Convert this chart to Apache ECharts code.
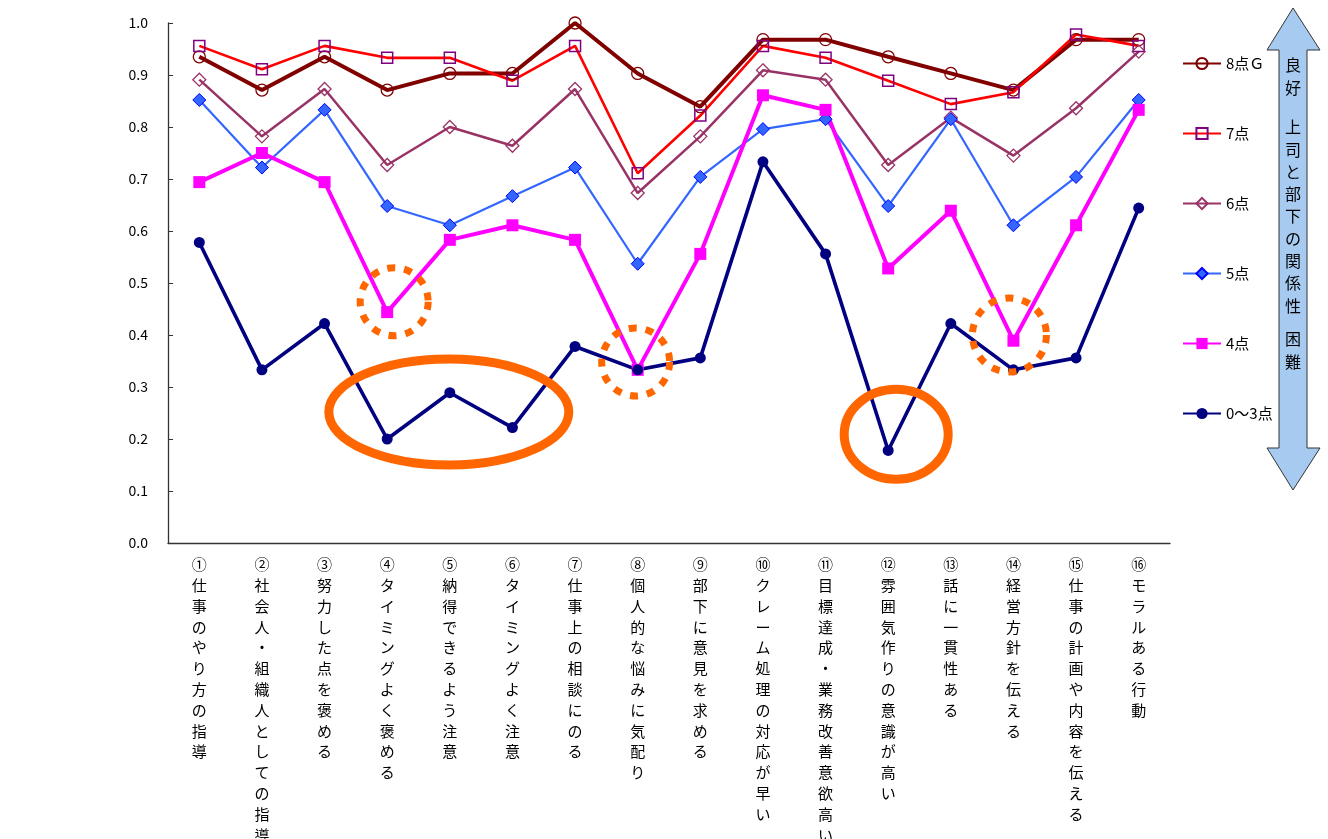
<!DOCTYPE html>
<html>
<head>
<meta charset="utf-8">
<script src="https://cdn.jsdelivr.net/npm/echarts@6/dist/echarts.min.js"></script>
<style>
html,body{margin:0;padding:0;background:#fff;}
#chart{width:1328px;height:839px;}
</style>
</head>
<body>
<div id="chart"></div>
<script>
const categories = ['①仕事のやり方の指導', '②社会人・組織人としての指導', '③努力した点を褒める', '④タイミングよく褒める', '⑤納得できるよう注意', '⑥タイミングよく注意', '⑦仕事上の相談にのる', '⑧個人的な悩みに気配り', '⑨部下に意見を求める', '⑩クレーム処理の対応が早い', '⑪目標達成・業務改善意欲高い', '⑫雰囲気作りの意識が高い', '⑬話に一貫性ある', '⑭経営方針を伝える', '⑮仕事の計画や内容を伝える', '⑯モラルある行動'];
const seriesNames = ['8点Ｇ', '7点', '6点', '5点', '4点', '0～3点'];
const s8G = [0.935, 0.871, 0.935, 0.871, 0.903, 0.903, 1.000, 0.903, 0.839, 0.968, 0.968, 0.935, 0.903, 0.871, 0.968, 0.968];
const s7 = [0.956, 0.911, 0.956, 0.933, 0.933, 0.889, 0.956, 0.711, 0.822, 0.956, 0.933, 0.889, 0.844, 0.867, 0.978, 0.956];
const s6 = [0.891, 0.782, 0.873, 0.727, 0.800, 0.764, 0.873, 0.673, 0.782, 0.909, 0.891, 0.727, 0.818, 0.745, 0.836, 0.945];
const s5 = [0.852, 0.722, 0.833, 0.648, 0.611, 0.667, 0.722, 0.537, 0.704, 0.796, 0.815, 0.648, 0.815, 0.611, 0.704, 0.852];
const s4 = [0.694, 0.750, 0.694, 0.444, 0.583, 0.611, 0.583, 0.333, 0.556, 0.861, 0.833, 0.528, 0.639, 0.389, 0.611, 0.833];
const s03 = [0.578, 0.333, 0.422, 0.200, 0.289, 0.222, 0.378, 0.333, 0.356, 0.733, 0.556, 0.178, 0.422, 0.333, 0.356, 0.644];
const yTicks = [0, 0.1, 0.2, 0.3, 0.4, 0.5, 0.6, 0.7, 0.8, 0.9, 1.0];
const arrowText = ['良好', '上司と部下の関係性', '困難'];

const FONT = "'Noto Sans CJK JP', 'Noto Sans', sans-serif";
const chart = echarts.init(document.getElementById('chart'));

function lineSeries(name, data, lineColor, lineWidth, symbol, size, fill, border, borderWidth) {
  return {
    name: name, type: 'line', data: data,
    symbol: symbol, symbolSize: size,
    lineStyle: { color: lineColor, width: lineWidth },
    itemStyle: { color: fill, borderColor: border, borderWidth: borderWidth },
    emphasis: { disabled: true },
    animation: false
  };
}

const option = {
  animation: false,
  textStyle: { fontFamily: FONT },
  grid: { left: 168, right: 158, top: 23, bottom: 296, containLabel: false, outerBoundsMode: 'none' },
  legend: {
    orient: 'vertical', left: 1177, top: 51,
    itemWidth: 38, itemHeight: 14, itemGap: 55,
    textStyle: { fontSize: 15, color: '#000', fontFamily: FONT },
    data: seriesNames
  },
  xAxis: {
    type: 'category', data: categories, boundaryGap: true,
    axisLine: { lineStyle: { color: '#333', width: 1.3 } },
    axisTick: { inside: true, length: 5, lineStyle: { color: '#333' } },
    axisLabel: {
      interval: 0, margin: 11, color: '#000', fontSize: 15, lineHeight: 20.8,
      fontFamily: FONT,
      formatter: v => Array.from(v).join('\n')
    }
  },
  yAxis: {
    type: 'value', min: 0, max: 1, interval: 0.1,
    splitLine: { show: false },
    axisLine: { show: true, lineStyle: { color: '#333', width: 1.3 } },
    axisTick: { show: true, inside: true, length: 5, lineStyle: { color: '#333' } },
    axisLabel: { margin: 20, color: '#000', fontSize: 14, fontFamily: FONT,
      formatter: v => (Math.round(v * 10) / 10).toFixed(1) }
  },
  series: [
    lineSeries(seriesNames[0], s8G, '#800000', 4, 'circle', 12, 'rgba(255,255,255,0)', '#800000', 1.3),
    lineSeries(seriesNames[1], s7, '#ff0000', 2.6, 'rect', 11, 'rgba(255,255,255,0)', '#800080', 1.5),
    lineSeries(seriesNames[2], s6, '#993366', 2.5, 'diamond', 13, 'rgba(255,255,255,0)', '#993366', 1.3),
    lineSeries(seriesNames[3], s5, '#3366ff', 2.2, 'diamond', 13, '#3366ff', '#0000ff', 1),
    lineSeries(seriesNames[4], s4, '#ff00ff', 4, 'rect', 12, '#ff00ff', '#ff00ff', 0),
    lineSeries(seriesNames[5], s03, '#000080', 3.6, 'circle', 11, '#000080', '#000080', 0)
  ]
};
chart.setOption(option);

// decorations: arrow + orange annotation marks positioned through the axes
const px = (i, v) => chart.convertToPixel({ gridIndex: 0 }, [i, v]);
const e1 = px(4, 0.252);
const e2 = px(11, 0.209);
const d1 = px(3, 0.464);
const d2 = px(7, 0.348);
const d3 = px(13, 0.400);
const ORANGE = '#ff6600';

const graphics = [
  {
    type: 'polygon', z: 50,
    shape: { points: [[1293, 8], [1320, 50], [1307, 50], [1307, 448], [1320, 448], [1293, 490], [1267, 448], [1279, 448], [1279, 50], [1267, 50]] },
    style: { fill: '#a6caf0', stroke: '#333', lineWidth: 1 }
  },
  { type: 'text', z: 51, left: 1285, top: 54,
    style: { text: Array.from(arrowText[0]).join('\n'), font: '16px ' + FONT, lineHeight: 22.3, fill: '#000', align: 'center' } },
  { type: 'text', z: 51, left: 1285, top: 116,
    style: { text: Array.from(arrowText[1]).join('\n'), font: '16px ' + FONT, lineHeight: 22.3, fill: '#000' } },
  { type: 'text', z: 51, left: 1285, top: 328,
    style: { text: Array.from(arrowText[2]).join('\n'), font: '16px ' + FONT, lineHeight: 22.3, fill: '#000' } },
  { type: 'ellipse', z: 100, shape: { cx: e1[0] - 1, cy: e1[1], rx: 120, ry: 53 },
    style: { fill: 'none', stroke: ORANGE, lineWidth: 9 } },
  { type: 'ellipse', z: 100, shape: { cx: e2[0] + 8, cy: e2[1], rx: 52, ry: 45 },
    style: { fill: 'none', stroke: ORANGE, lineWidth: 9 } },
  { type: 'circle', z: 100, shape: { cx: d1[0] + 7, cy: d1[1], r: 34 },
    style: { fill: 'none', stroke: ORANGE, lineWidth: 7, lineDash: [8, 9] } },
  { type: 'circle', z: 100, shape: { cx: d2[0] - 2, cy: d2[1], r: 34 },
    style: { fill: 'none', stroke: ORANGE, lineWidth: 7, lineDash: [8, 9] } },
  { type: 'circle', z: 100, shape: { cx: d3[0] - 4, cy: d3[1], r: 37 },
    style: { fill: 'none', stroke: ORANGE, lineWidth: 7, lineDash: [8, 9] } }
];
chart.setOption({ graphic: graphics });
</script>
</body>
</html>
